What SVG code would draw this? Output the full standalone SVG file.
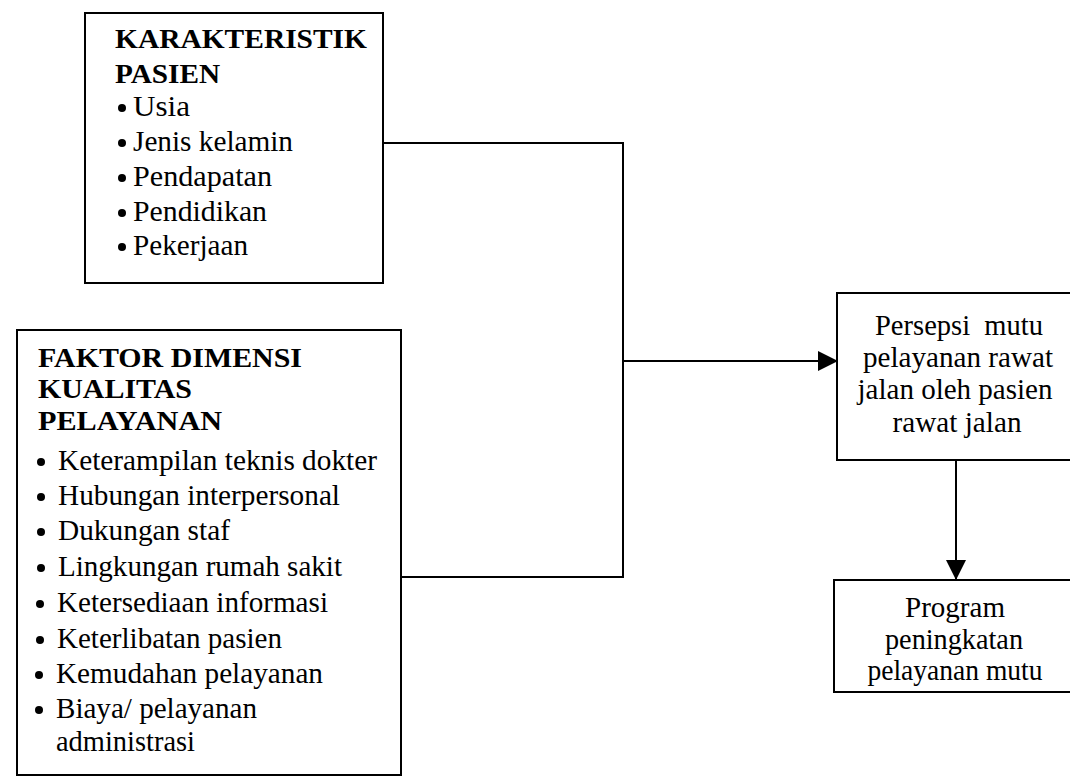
<svg xmlns="http://www.w3.org/2000/svg" width="1070" height="776" viewBox="0 0 1070 776">
<defs>
<style>
.box{fill:#fff;stroke:#000;stroke-width:2}
.h{font-family:"Liberation Serif",serif;font-weight:bold;font-size:28px;fill:#000}
.t{font-family:"Liberation Serif",serif;font-size:29px;fill:#000}
.c{font-family:"Liberation Serif",serif;font-size:29px;fill:#000;text-anchor:middle}
.ln{fill:none;stroke:#000;stroke-width:2}
</style>
<marker id="ah" viewBox="0 0 20 20" refX="20" refY="10" markerWidth="20" markerHeight="20" markerUnits="userSpaceOnUse" orient="auto">
<path d="M0,0 L20,10 L0,20 Z" fill="#000"/>
</marker>
</defs>
<rect width="1070" height="776" fill="#fff"/>
<g id="connectors">
<polyline class="ln" points="383,143 623,143 623,577 401,577"/>
<line class="ln" x1="623" y1="361" x2="838" y2="361" marker-end="url(#ah)"/>
<line class="ln" x1="956" y1="460" x2="956" y2="580" marker-end="url(#ah)"/>
</g>
<g id="karakteristik">
<rect class="box" x="85" y="13" width="298" height="270"/>
<text class="h" x="115" y="48" textLength="252" lengthAdjust="spacingAndGlyphs">KARAKTERISTIK</text>
<text class="h" x="115" y="83" textLength="105" lengthAdjust="spacingAndGlyphs">PASIEN</text>
<g fill="#000"><circle cx="122" cy="108" r="4"/><circle cx="122" cy="143" r="4"/><circle cx="122" cy="178" r="4"/><circle cx="122" cy="213" r="4"/><circle cx="122" cy="247" r="4"/></g>
<text class="t" x="133" y="116" textLength="57" lengthAdjust="spacingAndGlyphs">Usia</text>
<text class="t" x="133" y="151" textLength="160" lengthAdjust="spacingAndGlyphs">Jenis kelamin</text>
<text class="t" x="133" y="186" textLength="139" lengthAdjust="spacingAndGlyphs">Pendapatan</text>
<text class="t" x="133" y="221" textLength="134" lengthAdjust="spacingAndGlyphs">Pendidikan</text>
<text class="t" x="133" y="255" textLength="115" lengthAdjust="spacingAndGlyphs">Pekerjaan</text>
</g>
<g id="faktor">
<rect class="box" x="17" y="330" width="384" height="445"/>
<text class="h" x="38" y="367" textLength="264" lengthAdjust="spacingAndGlyphs">FAKTOR DIMENSI</text>
<text class="h" x="38" y="398" textLength="154" lengthAdjust="spacingAndGlyphs">KUALITAS</text>
<text class="h" x="38" y="430" textLength="184" lengthAdjust="spacingAndGlyphs">PELAYANAN</text>
<g fill="#000"><circle cx="41" cy="462" r="4"/><circle cx="41" cy="497" r="4"/><circle cx="41" cy="532" r="4"/><circle cx="41" cy="568" r="4"/><circle cx="40" cy="604" r="4"/><circle cx="40" cy="640" r="4"/><circle cx="39" cy="675" r="4"/><circle cx="39" cy="710" r="4"/></g>
<text class="t" x="58" y="470" textLength="319" lengthAdjust="spacingAndGlyphs">Keterampilan teknis dokter</text>
<text class="t" x="58" y="505" textLength="282" lengthAdjust="spacingAndGlyphs">Hubungan interpersonal</text>
<text class="t" x="58" y="540" textLength="172" lengthAdjust="spacingAndGlyphs">Dukungan staf</text>
<text class="t" x="58" y="576" textLength="284" lengthAdjust="spacingAndGlyphs">Lingkungan rumah sakit</text>
<text class="t" x="57" y="612" textLength="271" lengthAdjust="spacingAndGlyphs">Ketersediaan informasi</text>
<text class="t" x="57" y="648" textLength="225" lengthAdjust="spacingAndGlyphs">Keterlibatan pasien</text>
<text class="t" x="56" y="683" textLength="267" lengthAdjust="spacingAndGlyphs">Kemudahan pelayanan</text>
<text class="t" x="56" y="718" textLength="201" lengthAdjust="spacingAndGlyphs">Biaya/ pelayanan</text>
<text class="t" x="56" y="751" textLength="139" lengthAdjust="spacingAndGlyphs">administrasi</text>
</g>
<g id="persepsi">
<rect class="box" x="837" y="293" width="240" height="167"/>
<text class="c" x="959" y="335" textLength="168" lengthAdjust="spacingAndGlyphs" xml:space="preserve">Persepsi  mutu</text>
<text class="c" x="958" y="367" textLength="190" lengthAdjust="spacingAndGlyphs">pelayanan rawat</text>
<text class="c" x="955" y="399" textLength="195" lengthAdjust="spacingAndGlyphs">jalan oleh pasien</text>
<text class="c" x="957" y="432" textLength="129" lengthAdjust="spacingAndGlyphs">rawat jalan</text>
</g>
<g id="program">
<rect class="box" x="834" y="580" width="243" height="112"/>
<text class="c" x="955" y="617" textLength="100" lengthAdjust="spacingAndGlyphs">Program</text>
<text class="c" x="954" y="649" textLength="138" lengthAdjust="spacingAndGlyphs">peningkatan</text>
<text class="c" x="955" y="680" textLength="175" lengthAdjust="spacingAndGlyphs">pelayanan mutu</text>
</g>
</svg>
